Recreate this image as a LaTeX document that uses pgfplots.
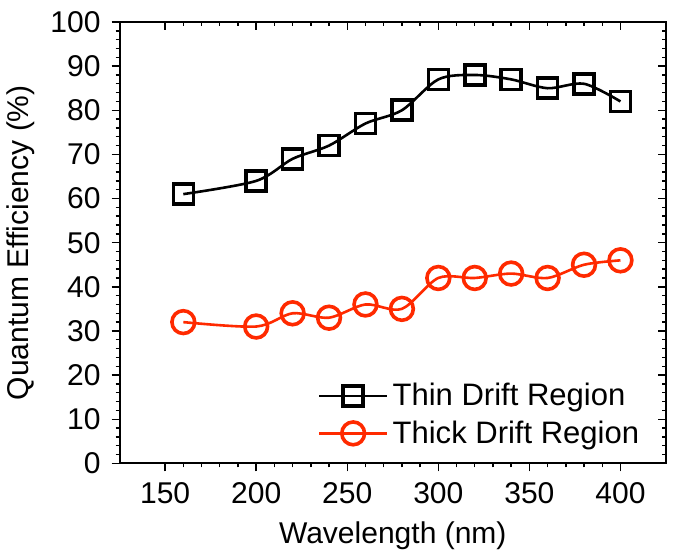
\documentclass[border=0pt]{standalone}
\usepackage{pgfplots}
\pgfplotsset{compat=1.18}
\usepackage{fontspec}
\setmainfont{Liberation Sans}
\definecolor{myred}{HTML}{FF2A00}
\begin{document}
\begin{tikzpicture}
\pgfplotsset{
  common/.style={
    width=273pt, height=220.5pt, scale only axis,
    xmin=125, xmax=425, ymin=0, ymax=100,
    xtick={150,200,...,400}, ytick={0,10,...,100},
    minor x tick num=4, minor y tick num=4,
    major tick length=4pt, minor tick length=2pt,
    every tick/.style={black, line width=0.7pt},
    axis line style={line width=1pt},
  }
}
\begin{axis}[common,
  xtick pos=left, ytick pos=left, tick align=outside,
  /pgf/number format/assume math mode=true,
  tick label style={font=\fontsize{15}{18}\selectfont},
  yticklabel style={xshift=-2pt},
  xticklabel style={yshift=-2pt},
  xlabel={Wavelength (nm)}, ylabel={Quantum Efficiency (\%)},
  label style={font=\fontsize{15}{18}\selectfont},
  xlabel style={yshift=-2pt},
  ylabel style={yshift=1pt},
  legend style={draw=none, fill=none, at={(0.97,0.02)}, anchor=south east,
    font=\fontsize{15.5}{18}\selectfont, row sep=2pt,
    nodes={inner xsep=2pt}},
  legend cell align=left,
  legend image code/.code={
    \draw[mark repeat=2,mark phase=2] plot coordinates {(0cm,0cm) (0.6cm,0cm) (1.2cm,0cm)};
  },
]
\addplot[black, line width=1.3pt, smooth, tension=0.5, mark=square, mark size=5pt,
  mark options={line width=1.8pt, solid}] coordinates {
(160,61) (200,64) (220,69) (240,72) (260,77) (280,80) (300,87) (320,88) (340,87) (360,85) (380,86) (400,82)};
\addlegendentry{Thin Drift Region}
\addplot[myred, line width=1.3pt, smooth, tension=0.5, mark=o, mark size=5.7pt,
  mark options={line width=1.8pt, solid}] coordinates {
(160,32) (200,31) (220,34) (240,33) (260,36) (280,35) (300,42) (320,42) (340,43) (360,42) (380,45) (400,46)};
\addlegendentry{Thick Drift Region}
\end{axis}
\begin{axis}[common,
  xtick pos=right, ytick pos=right, tick align=inside,
  xticklabels={}, yticklabels={},
  every tick label/.append style={overlay},
]
\end{axis}
\path (current axis.east) ++(4.5pt,0);
\path (current axis.north) ++(0,11pt);
\end{tikzpicture}
\end{document}
